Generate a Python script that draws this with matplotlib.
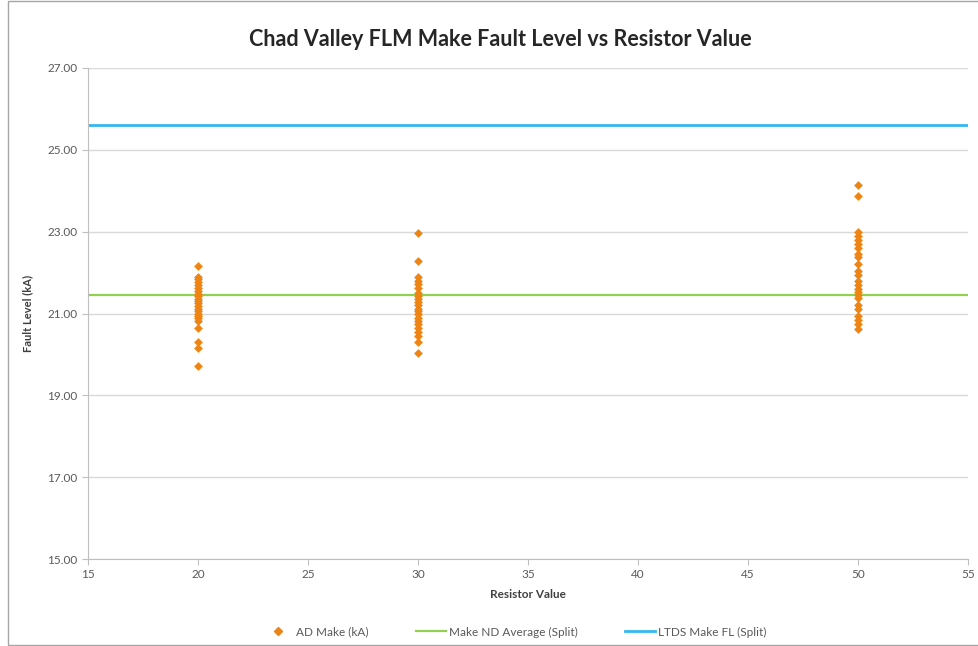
import matplotlib
matplotlib.use("Agg")
import matplotlib.pyplot as plt
from matplotlib.lines import Line2D
from matplotlib.patches import Rectangle

plt.rcParams['font.family'] = ['Lato', 'DejaVu Sans']

resistor_values = [20, 30, 50]
ad_make_20 = [22.16, 21.90, 21.85, 21.78, 21.70, 21.62, 21.55, 21.48, 21.42, 21.36, 21.30,
              21.25, 21.18, 21.12, 21.05, 21.00, 20.95, 20.88, 20.82, 20.65, 20.30, 20.15, 19.72]
ad_make_30 = [22.97, 22.28, 21.88, 21.80, 21.72, 21.62, 21.50, 21.42, 21.35, 21.28, 21.20,
              21.12, 21.05, 20.98, 20.90, 20.82, 20.75, 20.65, 20.55, 20.45, 20.30, 20.03]
ad_make_50 = [24.15, 23.87, 22.98, 22.90, 22.80, 22.70, 22.60, 22.45, 22.38, 22.20, 22.05,
              21.95, 21.80, 21.70, 21.60, 21.52, 21.45, 21.38, 21.20, 21.10, 20.95, 20.85,
              20.75, 20.62]
make_nd_average = 21.45
ltds_make_fl = 25.61
x_range = [15, 55]
y_ticks = [15, 17, 19, 21, 23, 25, 27]
x_ticks = [15, 20, 25, 30, 35, 40, 45, 50, 55]

orange = '#EE8413'
green = '#92D050'
blue = '#33B8F0'

fig = plt.figure(figsize=(9.79, 6.46), dpi=100)
ax = fig.add_axes([88/979, 1-559/646, (968-88)/979, (559-68)/646])

groups = [ad_make_20, ad_make_30, ad_make_50]
for rv, vals in zip(resistor_values, groups):
    ax.scatter([rv]*len(vals), vals, marker='D', s=20, color=orange, zorder=3, linewidths=0)

ax.plot(x_range, [make_nd_average]*2, color=green, lw=1.6, zorder=2)
ax.plot(x_range, [ltds_make_fl]*2, color=blue, lw=2.0, zorder=2)

ax.set_xlim(x_range)
ax.set_ylim(15, 27)
ax.set_xticks(x_ticks)
ax.set_yticks(y_ticks)
ax.set_yticklabels([f"{v:.2f}" for v in y_ticks])
ax.grid(axis='y', color='#D9D9D9', lw=1)
ax.set_axisbelow(True)
for s in ['top', 'right']:
    ax.spines[s].set_visible(False)
for s in ['left', 'bottom']:
    ax.spines[s].set_color('#BFBFBF')
ax.tick_params(axis='both', colors='#BFBFBF', labelcolor='#595959', labelsize=8.5, length=4)
ax.set_xlabel('Resistor Value', fontsize=8.5, fontweight='bold', color='#404040', labelpad=6)
ax.set_ylabel('Fault Level (kA)', fontsize=8, fontweight='bold', color='#404040', labelpad=10)

fig.text(500/979, 1-40/646, 'Chad Valley FLM Make Fault Level vs Resistor Value',
         ha='center', va='center', fontsize=15.5, fontweight='bold', color='#262626')

handles = [
    Line2D([], [], marker='D', ls='none', color=orange, markersize=4),
    Line2D([], [], color=green, lw=1.6),
    Line2D([], [], color=blue, lw=2.0),
]
labels = ['AD Make (kA)', 'Make ND Average (Split)', 'LTDS Make FL (Split)']
fig.legend(handles, labels, loc='center', bbox_to_anchor=(515/979, 1-632/646), ncol=3,
           frameon=False, fontsize=8.5, handlelength=2.5, handletextpad=0.3, columnspacing=4,
           labelcolor='#595959')

fig.patches.append(Rectangle((8/979, 0.002), 1.2, 0.996, transform=fig.transFigure,
                             fill=False, edgecolor='#A6A6A6', lw=1))

fig.savefig('out.png', dpi=100)
